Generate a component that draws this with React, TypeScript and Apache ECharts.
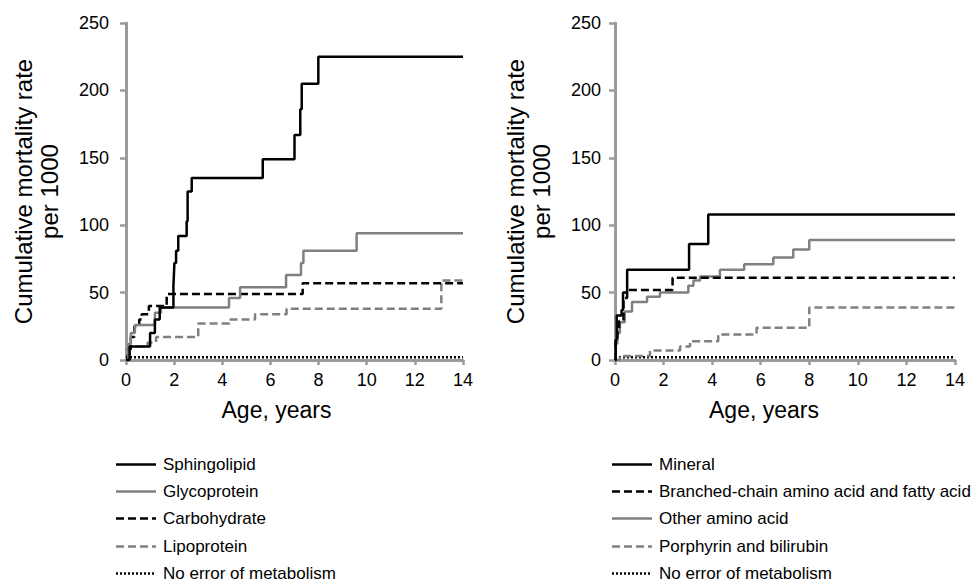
import React, { useEffect, useRef } from 'react';
import * as echarts from 'echarts';

// ---- Left panel data: [age in years, cumulative mortality per 1000] (value from that age on)
const sphingolipid = [
  [0, 0], [0.15, 10], [1.0, 20], [1.2, 30], [1.4, 39], [1.97, 55], [1.99, 63], [2.01, 72],
  [2.08, 81], [2.17, 92], [2.52, 103], [2.56, 125], [2.73, 135], [5.68, 149], [7.0, 167],
  [7.24, 186], [7.3, 205], [7.99, 225], [14, 225],
];
const glycoprotein = [
  [0, 0], [0.1, 12], [0.2, 20], [0.37, 26], [1.2, 35], [1.45, 39], [4.28, 46], [4.74, 54],
  [6.65, 63], [7.27, 72], [7.37, 81], [9.58, 94], [14, 94],
];
const carbohydrate = [
  [0, 0], [0.08, 8], [0.2, 17], [0.35, 25], [0.55, 30], [0.65, 34], [0.95, 40], [1.69, 49],
  [7.34, 57], [14, 57],
];
const lipoprotein = [
  [0, 0], [0.12, 10], [0.9, 13], [1.25, 17], [3.0, 27], [4.3, 30], [5.36, 34], [6.67, 38],
  [13.1, 59], [14, 59],
];
const noErrorLeft = [[0, 2], [14, 2]];

// ---- Right panel data
const mineral = [
  [0, 0], [0.03, 15], [0.07, 33], [0.27, 37], [0.33, 50], [0.5, 67], [3.05, 86], [3.84, 108], [14, 108],
];
const branchedChain = [
  [0, 0], [0.03, 15], [0.1, 22], [0.17, 29], [0.35, 46], [0.5, 52], [2.37, 61], [14, 61],
];
const otherAminoAcid = [
  [0, 0], [0.03, 12], [0.1, 20], [0.2, 28], [0.4, 36], [0.7, 43], [1.32, 47], [1.85, 50],
  [3.02, 55], [3.23, 59], [3.5, 62], [4.32, 67], [5.32, 71], [6.52, 76], [7.34, 82], [8.0, 89], [14, 89],
];
const porphyrin = [
  [0, 0], [0.2, 3], [1.44, 7], [2.68, 10], [3.09, 14], [4.25, 19], [5.83, 24], [8.0, 39], [14, 39],
];
const noErrorRight = [[0, 2], [14, 2]];

const leftNames = ['Sphingolipid', 'Glycoprotein', 'Carbohydrate', 'Lipoprotein', 'No error of metabolism'];
const rightNames = ['Mineral', 'Branched-chain amino acid and fatty acid', 'Other amino acid', 'Porphyrin and bilirubin', 'No error of metabolism'];

const X_MIN = 0, X_MAX = 14, X_STEP = 2;
const Y_MIN = 0, Y_MAX = 250, Y_STEP = 50;
const yTitle = 'Cumulative mortality rate\nper 1000';
const xTitle = 'Age, years';

const FONT = 'Liberation Sans, Arial, sans-serif';
const BLACK = '#000000';
const GRAY = '#808080';
const AXIS = '#9a9a9a';

const styles: Record<string, any> = {
  solidBlack: { color: BLACK, width: 2.5, type: 'solid' },
  solidGray: { color: GRAY, width: 2.5, type: 'solid' },
  dashBlack: { color: BLACK, width: 2.5, type: [8, 4] },
  dashGray: { color: GRAY, width: 2.5, type: [8, 4] },
  dot: { color: BLACK, width: 2.5, type: [2, 2] },
};

const leftStyles = [styles.solidBlack, styles.solidGray, styles.dashBlack, styles.dashGray, styles.dot];
const rightStyles = [styles.solidBlack, styles.dashBlack, styles.solidGray, styles.dashGray, styles.dot];

function mkSeries(name: string, data: number[][], style: any, idx: number) {
  return {
    type: 'line',
    name,
    data,
    step: 'end',
    xAxisIndex: idx,
    yAxisIndex: idx,
    symbol: 'none',
    showSymbol: false,
    lineStyle: style,
    itemStyle: { color: style.color },
    emphasis: { disabled: true },
  };
}

function xAxis(idx: number, namePad: number) {
  return {
    type: 'value',
    gridIndex: idx,
    min: X_MIN,
    max: X_MAX,
    interval: X_STEP,
    name: xTitle,
    nameLocation: 'middle',
    nameGap: 38,
    nameTextStyle: { fontFamily: FONT, fontSize: 23, color: BLACK, padding: [0, namePad, 0, 0] },
    axisLine: { show: true, onZero: false, lineStyle: { color: AXIS, width: 3 } },
    axisTick: { show: true, inside: false, length: 5, lineStyle: { color: AXIS, width: 2.5 } },
    axisLabel: { fontFamily: FONT, fontSize: 18, color: BLACK, margin: 11 },
    splitLine: { show: false },
  };
}

function yAxis(idx: number, nameGap: number, labelMargin: number) {
  return {
    type: 'value',
    gridIndex: idx,
    min: Y_MIN,
    max: Y_MAX,
    interval: Y_STEP,
    name: yTitle,
    nameLocation: 'middle',
    nameGap,
    nameTextStyle: { fontFamily: FONT, fontSize: 24, color: BLACK, lineHeight: 26 },
    axisLine: { show: true, onZero: false, lineStyle: { color: AXIS, width: 3 } },
    axisTick: { show: true, inside: false, length: 6, lineStyle: { color: AXIS, width: 2.5 } },
    axisLabel: { fontFamily: FONT, fontSize: 18, color: BLACK, margin: labelMargin },
    splitLine: { show: false },
  };
}

function legendGraphics(lineX: number, textX: number, names: string[], st: any[]) {
  const top = 464, gap = 27.2, len = 40;
  const out: any[] = [];
  names.forEach((n, i) => {
    const y = Math.round(top + i * gap) + 0.5;
    const s = st[i];
    out.push({
      type: 'line',
      silent: true,
      shape: { x1: lineX, y1: y, x2: lineX + len, y2: y },
      style: {
        stroke: s.color,
        lineWidth: s.width,
        lineDash: Array.isArray(s.type) ? s.type : null,
      },
    });
    out.push({
      type: 'text',
      silent: true,
      x: textX,
      y,
      style: {
        text: n,
        fontFamily: FONT,
        fontSize: 17,
        fill: BLACK,
        align: 'left',
        verticalAlign: 'middle',
      },
    });
  });
  return out;
}

export default function App() {
  const ref = useRef<HTMLDivElement>(null);
  useEffect(() => {
    if (!ref.current) return;
    const chart = echarts.init(ref.current, null, { renderer: 'svg' });
    chart.setOption({
      animation: false,
      backgroundColor: '#ffffff',
      grid: [
        { left: 126, right: 513, top: 23, bottom: 223, outerBoundsMode: 'none', containLabel: false },
        { left: 615, right: 21, top: 23, bottom: 223, outerBoundsMode: 'none', containLabel: false },
      ],
      xAxis: [xAxis(0, 36), xAxis(1, 42)],
      yAxis: [yAxis(0, 64, 17), yAxis(1, 61, 14)],
      graphic: [
        ...legendGraphics(116, 163, leftNames, leftStyles),
        ...legendGraphics(612, 659, rightNames, rightStyles),
      ],
      series: [
        mkSeries(leftNames[4], noErrorLeft, styles.dot, 0),
        mkSeries(leftNames[3], lipoprotein, styles.dashGray, 0),
        mkSeries(leftNames[2], carbohydrate, styles.dashBlack, 0),
        mkSeries(leftNames[1], glycoprotein, styles.solidGray, 0),
        mkSeries(leftNames[0], sphingolipid, styles.solidBlack, 0),
        mkSeries(rightNames[4], noErrorRight, styles.dot, 1),
        mkSeries(rightNames[3], porphyrin, styles.dashGray, 1),
        mkSeries(rightNames[2], otherAminoAcid, styles.solidGray, 1),
        mkSeries(rightNames[1], branchedChain, styles.dashBlack, 1),
        mkSeries(rightNames[0], mineral, styles.solidBlack, 1),
      ],
    });
    return () => chart.dispose();
  }, []);
  return (
    <div
      ref={ref}
      style={{ position: 'fixed', left: 0, top: 0, width: 976, height: 583, background: '#fff' }}
    />
  );
}
